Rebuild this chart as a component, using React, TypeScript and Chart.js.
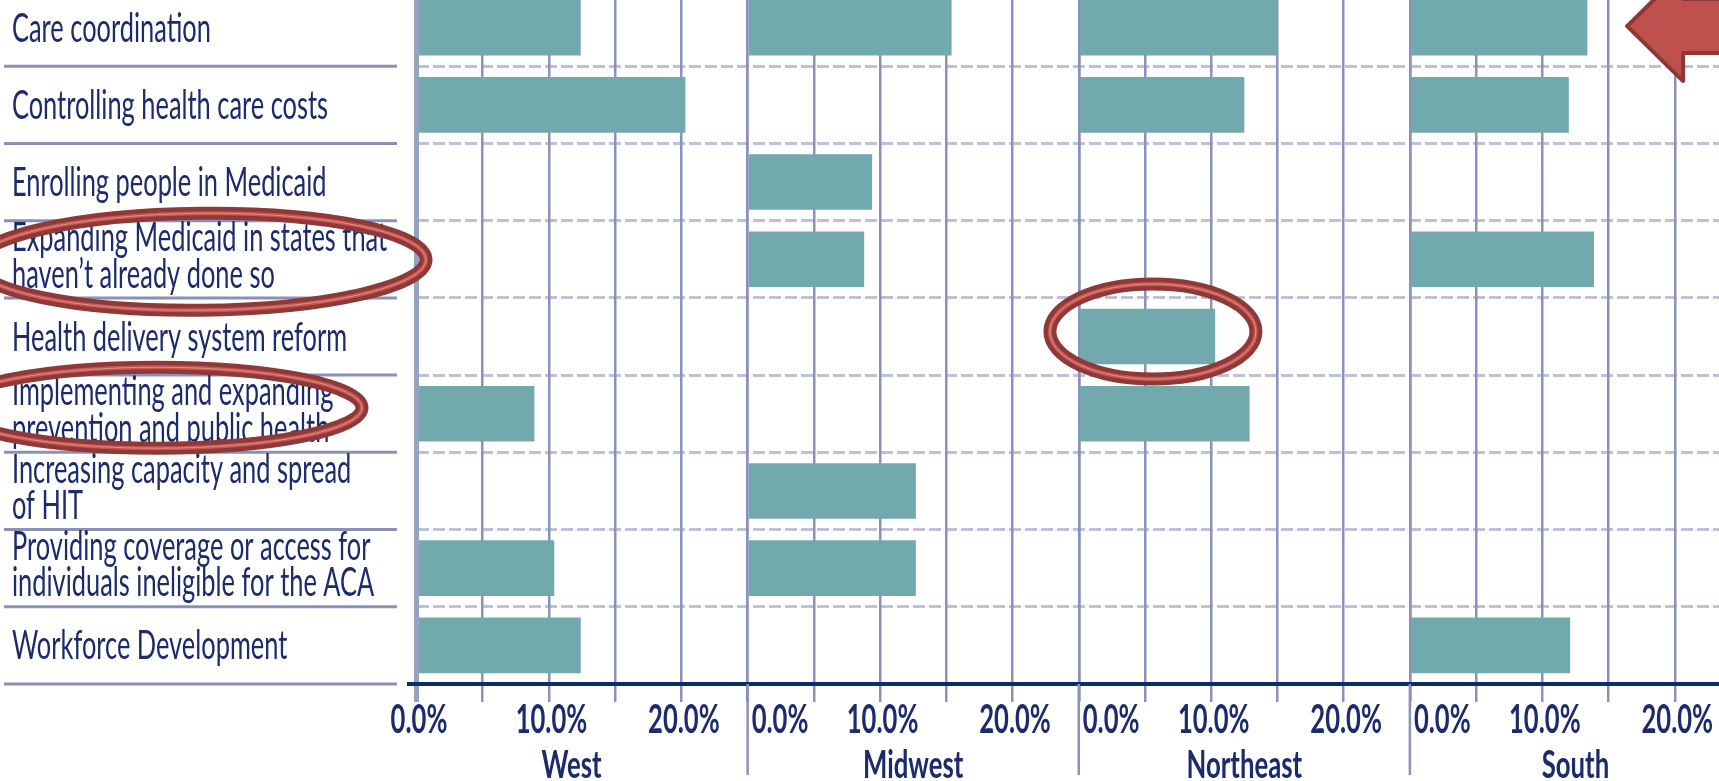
import React, { useEffect, useRef } from "react";
import { Chart, registerables } from "chart.js";

Chart.register(...registerables);

// Row labels (each entry is the list of lines drawn for that row)
const categories: string[][] = [
  ["Care coordination"],
  ["Controlling health care costs"],
  ["Enrolling people in Medicaid"],
  ["Expanding Medicaid in states that", "haven\u2019t already done so"],
  ["Health delivery system reform"],
  ["Implementing and expanding", "prevention and public health"],
  ["Increasing capacity and spread", "of HIT"],
  ["Providing coverage or access for", "individuals ineligible for the ACA"],
  ["Workforce Development"],
];

const regions = ["West", "Midwest", "Northeast", "South"];

// Share of respondents (%) per priority, one array per region
const westValues = [12.4, 20.3, null, null, null, 8.9, null, 10.4, 12.4];
const midwestValues = [15.4, null, 9.4, 8.8, null, null, 12.7, 12.7, null];
const northeastValues = [15.0, 12.5, null, null, 10.3, 12.9, null, null, null];
const southValues = [13.4, 12.0, null, 13.9, null, null, null, null, 12.1];

const regionValues = [westValues, midwestValues, northeastValues, southValues];

// Axis ticks: grid every 5%, labels at 0/10/20
const axisMax = 25;
const gridStep = 5;
const labelledTicks = [0, 10, 20];

// where each panel title sits along its own axis (in %)
const titleAt = [11.7, 12.5, 12.5, 12.5];

const panelIds = ["xWest", "xMidwest", "xNortheast", "xSouth"];

const NAVY = "#0c2d6b";
const TEXT = "#1b2b6b";
const GRID = "#8a92bb";
const DASH = "#bfc0da";
const BAR = "#72a9ad";

const LABEL_FONT = "40px Lato";
const TICK_FONT = "bold 40px Lato";
const TITLE_FONT = "bold 39px Lato";
const TEXT_SQUEEZE = 0.635;

const pct = (v: number) => v.toFixed(1) + "%";

function squeezedText(
  ctx: CanvasRenderingContext2D,
  text: string,
  x: number,
  y: number,
  font: string,
  align: CanvasTextAlign,
  sx: number
) {
  ctx.save();
  ctx.font = font;
  ctx.fillStyle = TEXT;
  ctx.textAlign = align;
  ctx.textBaseline = "alphabetic";
  ctx.translate(x, y);
  ctx.scale(sx, 1);
  ctx.fillText(text, 0, 0);
  ctx.restore();
}

function ring(
  ctx: CanvasRenderingContext2D,
  cx: number,
  cy: number,
  rx: number,
  ry: number,
  rot: number
) {
  ctx.save();
  ctx.beginPath();
  ctx.ellipse(cx, cy, rx, ry, rot, 0, Math.PI * 2);
  ctx.strokeStyle = "#8d3937";
  ctx.lineWidth = 13;
  ctx.stroke();
  ctx.strokeStyle = "#c65653";
  ctx.lineWidth = 4;
  ctx.stroke();
  ctx.strokeStyle = "#e28c88";
  ctx.lineWidth = 1;
  ctx.stroke();
  ctx.restore();
}

const overlayPlugin = {
  id: "regionOverlay",
  afterDraw(chart: any) {
    const { ctx, chartArea } = chart;
    const yScale = chart.scales.y;
    const panels = panelIds.map((id) => chart.scales[id]);
    const rowH = (chartArea.bottom - chartArea.top) / categories.length;
    const bottom = chartArea.bottom;

    ctx.save();
    ctx.lineCap = "butt";

    // solid separators under the label column
    ctx.strokeStyle = "#8a90b8";
    ctx.lineWidth = 3;
    for (let k = 1; k <= categories.length; k++) {
      const y = chartArea.top + k * rowH;
      ctx.beginPath();
      ctx.moveTo(4, y);
      ctx.lineTo(397, y);
      ctx.stroke();
    }

    // axis line runs a little left of the first panel
    ctx.strokeStyle = NAVY;
    ctx.lineWidth = 4;
    ctx.beginPath();
    ctx.moveTo(407, bottom);
    ctx.lineTo(chartArea.left, bottom);
    ctx.stroke();

    // panel dividers continue down past the tick labels
    ctx.strokeStyle = GRID;
    ctx.lineWidth = 2.5;
    panels.slice(1).forEach((s: any) => {
      const x = s.getPixelForValue(0);
      ctx.beginPath();
      ctx.moveTo(x, bottom);
      ctx.lineTo(x, bottom + 91);
      ctx.stroke();
    });

    // row labels
    categories.forEach((lines, i) => {
      const cy = yScale.getPixelForValue(i);
      if (lines.length === 1) {
        squeezedText(ctx, lines[0], 12, cy + 14, LABEL_FONT, "left", TEXT_SQUEEZE);
      } else {
        const mid = cy - 4;
        squeezedText(ctx, lines[0], 12, mid - 18.3 + 14, LABEL_FONT, "left", TEXT_SQUEEZE);
        squeezedText(ctx, lines[1], 12, mid + 18.3 + 14, LABEL_FONT, "left", TEXT_SQUEEZE);
      }
    });

    // tick labels and panel titles; a panel's 0% label sits just right of its divider
    panels.forEach((s: any, i: number) => {
      labelledTicks.forEach((v) => {
        const x = s.getPixelForValue(v);
        if (v === 0 && i > 0) {
          squeezedText(ctx, pct(v), x + 4, bottom + 49, TICK_FONT, "left", 0.64);
        } else {
          squeezedText(ctx, pct(v), x + 2.5, bottom + 49, TICK_FONT, "center", 0.64);
        }
      });
      squeezedText(ctx, regions[i], s.getPixelForValue(titleAt[i]), bottom + 94, TITLE_FONT, "center", 0.66);
    });

    // highlight rings
    ring(ctx, 201, yScale.getPixelForValue(3) + 2.5, 225, 48.5, -0.01);
    ring(ctx, 157, yScale.getPixelForValue(5) - 6, 205, 40.5, 0);
    ring(ctx, panels[2].getPixelForValue(5.6), yScale.getPixelForValue(4) - 5, 103, 47.5, 0);

    // arrow pointing at the first row
    const tx = panels[3].getPixelForValue(16.4);
    const ty = yScale.getPixelForValue(0) - 1.5;
    ctx.beginPath();
    ctx.moveTo(tx, ty);
    ctx.lineTo(tx + 56, ty - 55);
    ctx.lineTo(tx + 56, ty - 27);
    ctx.lineTo(tx + 220, ty - 27);
    ctx.lineTo(tx + 220, ty + 27);
    ctx.lineTo(tx + 56, ty + 27);
    ctx.lineTo(tx + 56, ty + 55);
    ctx.closePath();
    ctx.fillStyle = "#c0504d";
    ctx.fill();
    ctx.lineJoin = "round";
    ctx.strokeStyle = "#8c3836";
    ctx.lineWidth = 4;
    ctx.stroke();

    ctx.restore();
  },
};

function panelScale(index: number) {
  const isOrigin = (c: any) => index === 0 && c.tick && c.tick.value === 0;
  return {
    type: "linear" as const,
    position: "bottom" as const,
    stack: "regions",
    stackWeight: 1,
    min: 0,
    max: axisMax,
    offset: false,
    ticks: { display: false, stepSize: gridStep },
    grid: {
      z: -1,
      drawTicks: true,
      tickLength: 18,
      color: (c: any) => (isOrigin(c) ? "#94a3be" : GRID),
      lineWidth: (c: any) => (isOrigin(c) ? 5 : 2.5),
      tickColor: (c: any) => (isOrigin(c) ? "#94a3be" : GRID),
      tickWidth: (c: any) => (isOrigin(c) ? 5 : 2.5),
    },
    border: { display: true, color: NAVY, width: 4 },
  };
}

export default function App() {
  const canvasRef = useRef<HTMLCanvasElement | null>(null);

  useEffect(() => {
    const canvas = canvasRef.current;
    if (!canvas) return;

    const scales: any = {
      y: {
        type: "category",
        position: "left",
        offset: true,
        ticks: { display: false },
        grid: {
          z: -2,
          offset: true,
          color: DASH,
          lineWidth: 3,
          drawTicks: false,
          tickLength: 0,
          borderDash: [12, 4],
        },
        border: { display: false, dash: [12, 4] },
      },
    };
    panelIds.forEach((id, i) => {
      scales[id] = panelScale(i);
    });

    const chart = new Chart(canvas, {
      type: "bar",
      data: {
        labels: categories.map((lines) => lines.join(" ")),
        datasets: regions.map((region, i) => ({
          label: region,
          data: regionValues[i],
          xAxisID: panelIds[i],
          yAxisID: "y",
          backgroundColor: BAR,
          borderWidth: 0,
          grouped: false,
          barPercentage: 0.72,
          categoryPercentage: 1,
        })),
      },
      options: {
        indexAxis: "y",
        responsive: false,
        maintainAspectRatio: false,
        animation: false,
        events: [],
        layout: { padding: { left: 416.5, right: 0, top: 0, bottom: 79 } },
        plugins: { legend: { display: false }, tooltip: { enabled: false } },
        scales,
      },
      plugins: [overlayPlugin],
    } as any);

    return () => chart.destroy();
  }, []);

  return (
    <div
      style={{
        position: "fixed",
        left: 0,
        top: 0,
        width: "100vw",
        height: "100vh",
        overflow: "hidden",
        background: "#ffffff",
      }}
    >
      <div style={{ position: "absolute", left: 0, top: -11, width: 1741, height: 792 }}>
        <canvas
          ref={canvasRef}
          width={1741}
          height={792}
          style={{ display: "block", width: 1741, height: 792 }}
        />
      </div>
    </div>
  );
}
